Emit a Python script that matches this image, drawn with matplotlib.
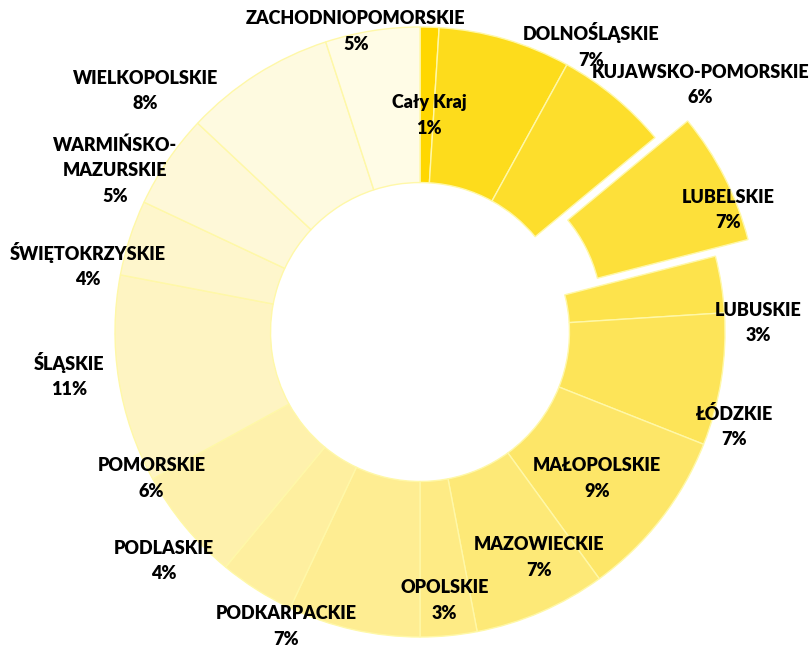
import matplotlib
matplotlib.use("Agg")
import matplotlib.pyplot as plt

# Share of each region, clockwise from the top
regions = [
    "Cały Kraj", "DOLNOŚLĄSKIE", "KUJAWSKO-POMORSKIE", "LUBELSKIE",
    "LUBUSKIE", "ŁÓDZKIE", "MAŁOPOLSKIE", "MAZOWIECKIE", "OPOLSKIE",
    "PODKARPACKIE", "PODLASKIE", "POMORSKIE", "ŚLĄSKIE",
    "ŚWIĘTOKRZYSKIE", "WARMIŃSKO-\nMAZURSKIE", "WIELKOPOLSKIE",
    "ZACHODNIOPOMORSKIE",
]
shares = [1, 7, 6, 7, 3, 7, 9, 7, 3, 7, 4, 6, 11, 4, 5, 8, 5]

colors = [
    "#FFD700", "#FDDC1C", "#FDDE2C", "#FDE03A", "#FDE34C", "#FDE458",
    "#FDE668", "#FDE977", "#FEEB85", "#FEED92", "#FEEF9F", "#FEF1AC",
    "#FEF4C2", "#FEF6CC", "#FEF8D8", "#FEFAE0", "#FFFCE6",
]
explode = [0.12 if r == "LUBELSKIE" else 0 for r in regions]

# label centres in pie units (radius = 1)
label_pos = [
    (0.03, 0.71), (0.56, 0.94), (0.92, 0.81), (1.01, 0.40),
    (1.11, 0.03), (1.03, -0.31), (0.58, -0.48), (0.39, -0.74),
    (0.08, -0.88), (-0.44, -0.965), (-0.84, -0.75), (-0.88, -0.48),
    (-1.15, -0.14), (-1.09, 0.22), (-1.00, 0.53), (-0.90, 0.79),
    (-0.21, 0.985),
]

plt.rcParams["font.family"] = ["Lato", "DejaVu Sans"]

fig = plt.figure(figsize=(8.1, 6.47), dpi=100)
ax = fig.add_axes([0, 0, 1, 1])
ax.pie(
    shares, colors=colors, explode=explode, startangle=90,
    counterclock=False, radius=1.0,
    wedgeprops=dict(width=0.51, edgecolor="#FFF8A8", linewidth=1.0),
)

for name, val, (x, y) in zip(regions, shares, label_pos):
    ax.text(x, y, f"{name}\n{val}%", ha="center", va="center",
            fontsize=13, fontweight="heavy", linespacing=1.6,
            color="black")

ax.set_xlim(-420 / 305, 390 / 305)
ax.set_ylim(-315 / 305, 332 / 305)
ax.set_aspect("equal")
ax.axis("off")

fig.savefig("out.png", dpi=100, facecolor="white")
